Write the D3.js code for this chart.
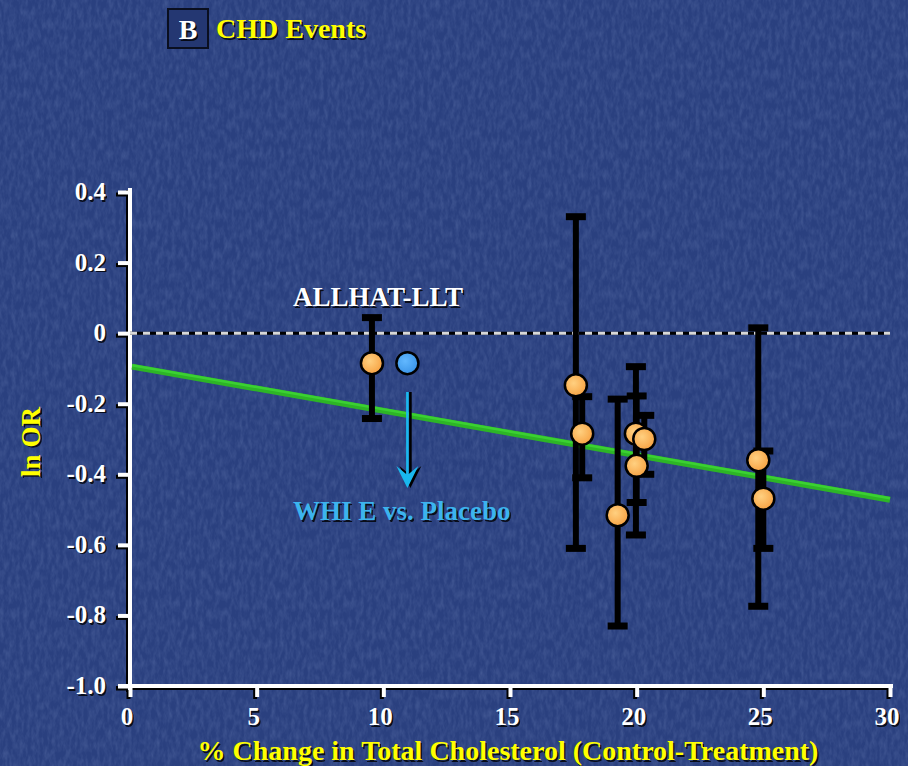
<!DOCTYPE html>
<html><head><meta charset="utf-8">
<script src="https://cdn.jsdelivr.net/npm/d3@7"></script>
<style>html,body{margin:0;padding:0;background:#2c4280;}svg{display:block;}</style>
</head><body>
<script>
// ---- data ----
const trialX     = [9.55, 17.6, 17.85, 19.25, 19.97, 20.0, 20.3, 24.8, 25.0];
const trialLnOR  = [-0.085, -0.148, -0.285, -0.516, -0.285, -0.376, -0.30, -0.36, -0.469];
const ciLow      = [-0.242, -0.61, -0.41, -0.83, -0.572, -0.48, -0.40, -0.774, -0.61];
const ciHigh     = [0.044, 0.33, -0.18, -0.187, -0.095, -0.178, -0.233, 0.015, -0.334];
const whiX = [10.95];
const whiLnOR = [-0.085];
const regX = [0, 30];
const regY = [-0.095, -0.472];
const xTicks = [0, 5, 10, 15, 20, 25, 30];
const yTicks = [0.4, 0.2, 0, -0.2, -0.4, -0.6, -0.8, -1.0];
const yTickLabels = ["0.4", "0.2", "0", "-0.2", "-0.4", "-0.6", "-0.8", "-1.0"];

const W = 908, H = 766;
const svg = d3.select("body").append("svg").attr("width", W).attr("height", H);
const defs = svg.append("defs");

// background texture
const f = defs.append("filter").attr("id", "tex").attr("x", 0).attr("y", 0).attr("width", 1).attr("height", 1);
f.append("feTurbulence").attr("type", "fractalNoise").attr("baseFrequency", "0.25 0.1").attr("numOctaves", 3).attr("seed", 7).attr("result", "n");
f.append("feColorMatrix").attr("in", "n").attr("type", "matrix")
  .attr("values", "0 0 0 0 0.5  0 0 0 0 0.62  0 0 0 0 0.95  0 0 0 0.9 -0.3");
svg.append("rect").attr("width", W).attr("height", H).attr("fill", "#2a407f");
svg.append("rect").attr("width", W).attr("height", H).attr("filter", "url(#tex)").attr("opacity", 0.28);

const grad = defs.append("radialGradient").attr("id", "og").attr("cx", "40%").attr("cy", "40%").attr("r", "60%");
grad.append("stop").attr("offset", "0%").attr("stop-color", "#ffd080");
grad.append("stop").attr("offset", "100%").attr("stop-color", "#f7a445");
const bgrad = defs.append("radialGradient").attr("id", "bg").attr("cx", "40%").attr("cy", "40%").attr("r", "60%");
bgrad.append("stop").attr("offset", "0%").attr("stop-color", "#62b8ff");
bgrad.append("stop").attr("offset", "100%").attr("stop-color", "#3b95e8");

const x = d3.scaleLinear().domain([0, 30]).range([130, 890]);
const y = d3.scaleLinear().domain([-1.0, 0.4]).range([686, 192]);

const FONT = "'Liberation Serif','DejaVu Serif',serif";
function shadowText(g, tx, ty, txt, opts) {
  const grp = g.append("g");
  const base = (sel) => sel.attr("font-family", FONT).attr("font-weight", "bold")
    .attr("font-size", opts.size).attr("text-anchor", opts.anchor || "start").text(txt);
  base(grp.append("text").attr("x", tx + 1.5).attr("y", ty + 1.5).attr("fill", "#000").attr("opacity", 0.8)
    .attr("transform", opts.rotate ? `rotate(${opts.rotate},${tx + 1.5},${ty + 1.5})` : null));
  base(grp.append("text").attr("x", tx).attr("y", ty).attr("fill", opts.fill)
    .attr("transform", opts.rotate ? `rotate(${opts.rotate},${tx},${ty})` : null));
  return grp;
}

// title
svg.append("rect").attr("x", 168).attr("y", 9).attr("width", 40).attr("height", 39)
  .attr("fill", "#243772").attr("stroke", "#0a0f20").attr("stroke-width", 2);
shadowText(svg, 188, 39, "B", {size: 28, fill: "#fff", anchor: "middle"});
shadowText(svg, 216, 38, "CHD Events", {size: 28, fill: "#ffff00"});

// axes
function drawAxes(color, dx, dy) {
  const g = svg.append("g").attr("transform", `translate(${dx},${dy})`);
  const ya = d3.axisLeft(y).tickValues(yTicks).tickSize(12).tickFormat("");
  const ga = g.append("g").attr("transform", "translate(130,0)").call(ya);
  ga.select(".domain").remove();
  ga.selectAll(".tick line").attr("stroke", color).attr("stroke-width", 4);
  g.append("line").attr("x1", 130).attr("x2", 130).attr("y1", 188).attr("y2", 690).attr("stroke", color).attr("stroke-width", 4);
  const xa = d3.axisBottom(x).tickValues(xTicks).tickSize(11).tickFormat("");
  const gx = g.append("g").attr("transform", "translate(0,686)").call(xa);
  gx.select(".domain").remove();
  gx.selectAll(".tick line").attr("stroke", color).attr("stroke-width", 4);
  g.append("line").attr("x1", 118).attr("x2", 893).attr("y1", 686).attr("y2", 686).attr("stroke", color).attr("stroke-width", 4);
}
drawAxes("#000", -2, 2);
drawAxes("#fff", 0, 0);

// tick labels
yTicks.forEach((v, i) => shadowText(svg, 106, y(v) + 8, yTickLabels[i], {size: 25, fill: "#fff", anchor: "end"}));
xTicks.forEach(v => shadowText(svg, x(v) - 3, 725, String(v), {size: 25, fill: "#fff", anchor: "middle"}));

// axis titles
shadowText(svg, 508, 760, "% Change in Total Cholesterol (Control-Treatment)", {size: 28, fill: "#ffff00", anchor: "middle"});
shadowText(svg, 40, 442, "ln OR", {size: 27, fill: "#ffff00", anchor: "middle", rotate: -90});

// zero dashed line
svg.append("line").attr("x1", x(0)).attr("x2", x(30)).attr("y1", y(0)).attr("y2", y(0))
  .attr("stroke", "#000").attr("stroke-width", 3);
svg.append("line").attr("x1", x(0)).attr("x2", x(30)).attr("y1", y(0)).attr("y2", y(0))
  .attr("stroke", "#d8d8d8").attr("stroke-width", 3).attr("stroke-dasharray", "7,6");

// regression line
svg.append("line").attr("x1", x(regX[0]) + 2).attr("x2", x(regX[1])).attr("y1", y(regY[0])).attr("y2", y(regY[1]))
  .attr("stroke", "#2db526").attr("stroke-width", 6);
svg.append("line").attr("x1", x(regX[0]) + 2).attr("x2", x(regX[1])).attr("y1", y(regY[0]) - 1.5).attr("y2", y(regY[1]) - 1.5)
  .attr("stroke", "#3fd836").attr("stroke-width", 2.5).attr("opacity", 0.8);

// error bars
const idx = d3.range(trialX.length);
const eb = svg.append("g");
eb.selectAll("line.v").data(idx).join("line")
  .attr("x1", i => x(trialX[i])).attr("x2", i => x(trialX[i]))
  .attr("y1", i => y(ciHigh[i])).attr("y2", i => y(ciLow[i]))
  .attr("stroke", "#000").attr("stroke-width", 6);
eb.selectAll("line.ch").data(idx).join("line")
  .attr("x1", i => x(trialX[i]) - 10).attr("x2", i => x(trialX[i]) + 10)
  .attr("y1", i => y(ciHigh[i])).attr("y2", i => y(ciHigh[i]))
  .attr("stroke", "#000").attr("stroke-width", 7);
eb.selectAll("line.cl").data(idx).join("line")
  .attr("x1", i => x(trialX[i]) - 10).attr("x2", i => x(trialX[i]) + 10)
  .attr("y1", i => y(ciLow[i])).attr("y2", i => y(ciLow[i]))
  .attr("stroke", "#000").attr("stroke-width", 7);

// points
svg.append("g").selectAll("circle").data(idx).join("circle")
  .attr("cx", i => x(trialX[i])).attr("cy", i => y(trialLnOR[i])).attr("r", 11)
  .attr("fill", "url(#og)").attr("stroke", "#000").attr("stroke-width", 2.5);
svg.append("g").selectAll("circle").data(whiX).join("circle")
  .attr("cx", (d) => x(d)).attr("cy", (d, i) => y(whiLnOR[i])).attr("r", 11)
  .attr("fill", "url(#bg)").attr("stroke", "#000").attr("stroke-width", 2.5);

// annotations
shadowText(svg, 293, 306, "ALLHAT-LLT", {size: 27, fill: "#fff"});
shadowText(svg, 293, 520, "WHI E vs. Placebo", {size: 27, fill: "#3cb4ee"});
const ax = x(whiX[0]);
const arrowPath = (ox) => `M${ax + ox - 1.3},392 L${ax + ox - 1.3},474 L${ax + ox - 11},466 L${ax + ox},488 L${ax + ox + 11},466 L${ax + ox + 1.3},474 L${ax + ox + 1.3},392 Z`;
svg.append("path").attr("d", arrowPath(3)).attr("fill", "#000");
svg.append("path").attr("d", arrowPath(0)).attr("fill", "#19b8ee");
</script>
</body></html>
